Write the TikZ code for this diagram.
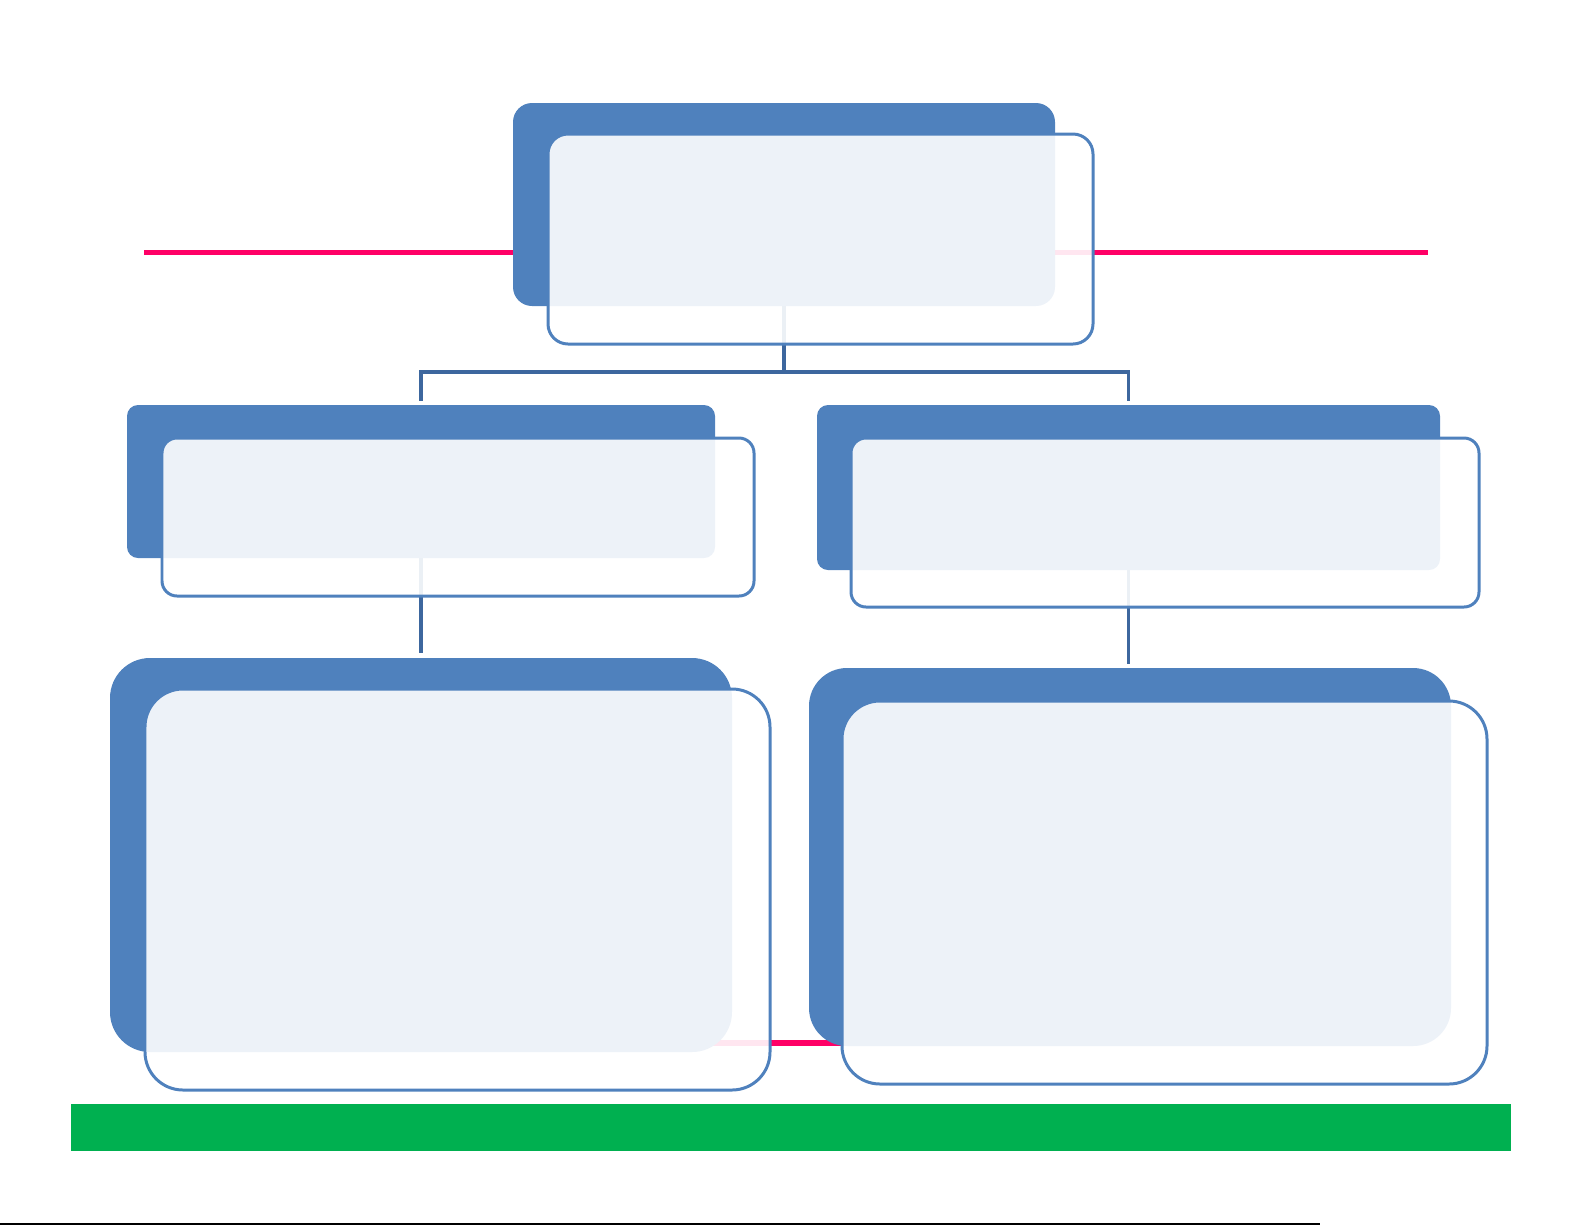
\documentclass[tikz,border=0pt]{standalone}
\usetikzlibrary{fit}
\definecolor{boxblue}{HTML}{4F81BD}
\definecolor{connblue}{RGB}{61,103,158}
\definecolor{pinkline}{HTML}{FF0066}
\definecolor{greenbar}{HTML}{00B050}
\tikzset{
  darkbox/.style={fit={#1}, inner sep=0pt, fill=boxblue, draw=none},
  frontbox/.style={fit={#1}, inner sep=0pt, fill=white, fill opacity=0.9, draw=boxblue, draw opacity=1, line width=1.7pt},
  conn/.style={draw=connblue, line width=1.9pt},
  pink/.style={draw=pinkline, line width=2.9pt},
}
\begin{document}
\begin{tikzpicture}[x=0.02cm, y=-0.02cm]
\useasboundingbox (0,0) rectangle (1585,1225);
% pink lines behind
\draw[pink] (144,252.5) -- (1428,252.5);
\draw[pink] (600,1043) -- (950,1043);
% dark boxes
\node[darkbox={(513,103) (1055,306)}, rounded corners=0.38cm] (topdark) {};
\node[darkbox={(127,405) (715,558)}, rounded corners=0.22cm] (mldark) {};
\node[darkbox={(817,405) (1440,570)}, rounded corners=0.22cm] (mrdark) {};
\node[darkbox={(110,658) (732,1052)}, rounded corners=0.8cm] (bldark) {};
\node[darkbox={(809,668) (1451,1046)}, rounded corners=0.76cm] (brdark) {};
% connectors
\coordinate (j) at (784,372);
\draw[conn] (topdark.south) -- (j);
\draw[conn] ([yshift=0.08cm]mldark.north) |- (j) -| ([yshift=0.08cm]mrdark.north);
\draw[conn] (mldark.south) -- ([yshift=0.1cm]bldark.north -| mldark.south);
\draw[conn] (mrdark.south) -- ([yshift=0.08cm]brdark.north -| mrdark.south);
% front boxes
\node[frontbox={(548,134) (1093,344)}, rounded corners=0.4cm] (topfront) {};
\node[frontbox={(162,438) (754,596)}, rounded corners=0.3cm] (mlfront) {};
\node[frontbox={(851,438) (1479,607)}, rounded corners=0.3cm] (mrfront) {};
\node[frontbox={(145,689) (770,1090)}, rounded corners=0.76cm] (blfront) {};
\node[frontbox={(842,701) (1487,1084)}, rounded corners=0.76cm] (brfront) {};
% green bar
\node[fit={(71,1104) (1511,1151)}, inner sep=0pt, fill=greenbar] (bar) {};
% bottom edge line
\draw[black, line width=0.8pt] (0,1223.8) -- (1320,1223.8);
\end{tikzpicture}
\end{document}
